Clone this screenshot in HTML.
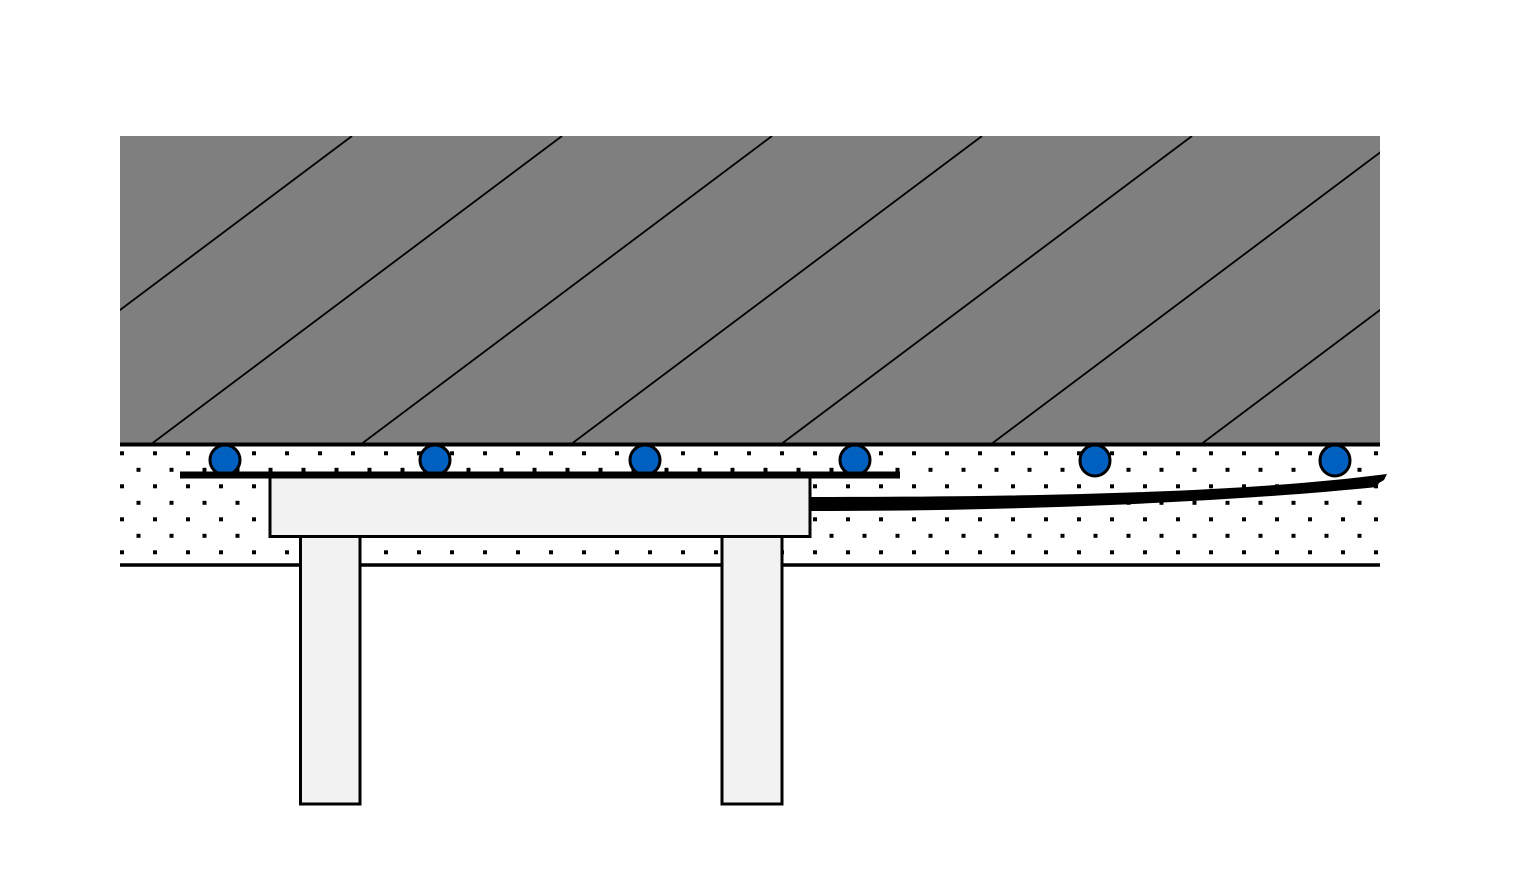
<!DOCTYPE html>
<html>
<head>
<meta charset="utf-8">
<style>
html,body{margin:0;padding:0;background:#fff;}
svg{display:block;}
</style>
</head>
<body>
<svg width="1514" height="894" viewBox="0 0 1514 894" xmlns="http://www.w3.org/2000/svg">
  <defs>
    <pattern id="dots" patternUnits="userSpaceOnUse" x="120" y="451.3" width="33" height="33">
      <rect x="0" y="0" width="4" height="4" fill="#000"/>
      <rect x="16.5" y="16.5" width="4" height="4" fill="#000"/>
    </pattern>
    <clipPath id="gclip"><rect x="120" y="136" width="1260" height="309"/></clipPath>
  </defs>

  <!-- gray hatched block -->
  <rect x="120" y="136" width="1260" height="309" fill="#7f7f7f"/>
  <g clip-path="url(#gclip)" stroke="#000" stroke-width="1.8">
    <line x1="-60" y1="445" x2="352" y2="136"/>
    <line x1="150" y1="445" x2="562" y2="136"/>
    <line x1="360" y1="445" x2="772" y2="136"/>
    <line x1="570" y1="445" x2="982" y2="136"/>
    <line x1="780" y1="445" x2="1192" y2="136"/>
    <line x1="990" y1="445" x2="1402" y2="136"/>
    <line x1="1200" y1="445" x2="1612" y2="136"/>
  </g>

  <!-- dotted layer -->
  <rect x="120" y="446" width="1260" height="118" fill="#fff"/>
  <rect x="120" y="446" width="1260" height="118" fill="url(#dots)"/>

  <!-- boundary lines -->
  <line x1="120" y1="444.5" x2="1380" y2="444.5" stroke="#000" stroke-width="4"/>
  <line x1="120" y1="565" x2="1380" y2="565" stroke="#000" stroke-width="3.5"/>

  <!-- circles -->
  <g fill="#0060bf" stroke="#000" stroke-width="3">
    <circle cx="225" cy="460" r="15"/>
    <circle cx="435" cy="460" r="15"/>
    <circle cx="645" cy="460" r="15"/>
    <circle cx="855" cy="460" r="15"/>
    <ellipse cx="1095" cy="460.5" rx="15" ry="15.5"/>
    <ellipse cx="1335" cy="460.5" rx="15" ry="15.5"/>
  </g>

  <!-- horizontal bar -->
  <rect x="180" y="471.5" width="720" height="7" fill="#000"/>

  <!-- curved tapered strip -->
  <path d="M810,497 C1050,497 1250,492 1387,474 L1384,480 L1379,483 L1377,487 C1250,500 1050,511 810,511 Z" fill="#000"/>

  <!-- table top -->
  <rect x="270" y="477" width="540" height="59.5" fill="#f2f2f2" stroke="#000" stroke-width="3"/>

  <!-- legs -->
  <rect x="300.5" y="536.5" width="59.5" height="267.5" fill="#f2f2f2" stroke="#000" stroke-width="3"/>
  <rect x="722" y="536.5" width="60" height="267.5" fill="#f2f2f2" stroke="#000" stroke-width="3"/>
</svg>
</body>
</html>
